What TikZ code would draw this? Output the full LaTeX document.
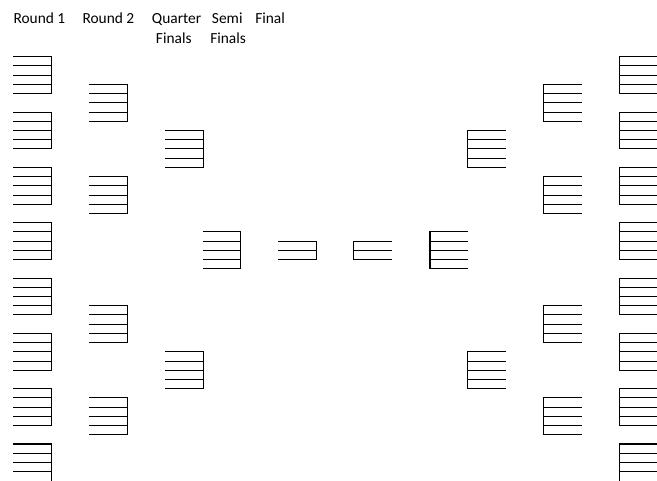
\documentclass[tikz,border=0pt]{standalone}
\usepackage{fontspec}
\setmainfont{Carlito}
\tikzset{
  bl/.style={line width=0.8pt, black, line join=miter},
  hdr/.style={anchor=base west, inner sep=0pt, font=\fontsize{11.55}{13}\selectfont}
}
% block with vertical bar on the right: x, first row, number of lines
\newcommand\leftblock[3]{%
  \pgfmathsetmacro\ytop{56.7+9.222*#2}%
  \pgfmathsetmacro\ybot{56.7+9.222*(#2+#3-1)}%
  \draw[bl] (#1,\ytop) -- ({#1+38.4},\ytop) -- ({#1+38.4},\ybot) -- (#1,\ybot);
  \foreach \k in {2,...,\numexpr#3-1\relax}{%
    \draw[bl] (#1,{56.7+9.222*(#2+\k-1)}) -- ({#1+38.4},{56.7+9.222*(#2+\k-1)});}%
}
% block with vertical bar on the left
\newcommand\rightblock[3]{%
  \pgfmathsetmacro\ytop{56.7+9.222*#2}%
  \pgfmathsetmacro\ybot{56.7+9.222*(#2+#3-1)}%
  \draw[bl] ({#1+38.4},\ytop) -- (#1,\ytop) -- (#1,\ybot) -- ({#1+38.4},\ybot);
  \foreach \k in {2,...,\numexpr#3-1\relax}{%
    \draw[bl] (#1,{56.7+9.222*(#2+\k-1)}) -- ({#1+38.4},{56.7+9.222*(#2+\k-1)});}%
}
\begin{document}
\begin{tikzpicture}[x=0.75pt, y=-0.75pt]
\useasboundingbox (0,0) rectangle (657,480);
\clip (0,0) rectangle (657,480);
\fill[white] (0,0) rectangle (657,480);
% headers
\node[hdr] (h1) at (13.3,23.3) {Round 1};
\node[hdr] (h2) at (82.3,23.3) {Round 2};
\node[hdr] (h3) at (151.7,23.3) {Quarter};
\node[hdr] (h4) at (211.7,23.3) {Semi};
\node[hdr] (h5) at (255,23.3) {Final};
\node[hdr] (h3b) at (155.7,43.3) {Finals};
\node[hdr] (h4b) at (210,43.3) {Finals};
% left side
\foreach \r in {0,6,...,36}{\leftblock{13.3}{\r}{5}}
\foreach \r in {3,13,27,37}{\leftblock{89.1}{\r}{5}}
\foreach \r in {8,32}{\leftblock{164.8}{\r}{5}}
\leftblock{202.5}{19}{5}
\leftblock{278.3}{20}{3}
% right side
\rightblock{353.5}{20}{3}
\rightblock{430.0}{19}{5}
\foreach \r in {8,32}{\rightblock{467.8}{\r}{5}}
\foreach \r in {3,13,27,37}{\rightblock{543.6}{\r}{5}}
\foreach \r in {0,6,...,36}{\rightblock{619.3}{\r}{5}}
% bottom blocks, cut by the lower edge
\draw[bl] (13.3,444) -- (51.7,444) -- (51.7,490);
\draw[bl] (657.7,444) -- (619.3,444) -- (619.3,490);
\foreach \y in {453.3,462.4,471.7}{
  \draw[bl] (13.3,\y) -- (51.7,\y);
  \draw[bl] (619.3,\y) -- (657.7,\y);
}
\end{tikzpicture}
\end{document}
